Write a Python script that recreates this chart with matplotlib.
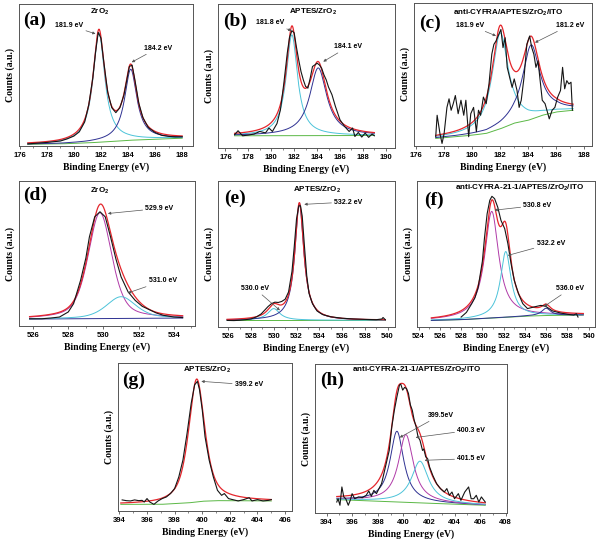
#!/usr/bin/env python3
# -*- coding: utf-8 -*-
"""XPS core-level spectra (Zr 3d, O 1s, N 1s) with peak-fit components."""

import numpy as np
import matplotlib
matplotlib.use('Agg')
import matplotlib.pyplot as plt
from matplotlib.ticker import MultipleLocator

plt.rcParams['font.family'] = ['Liberation Sans', 'DejaVu Sans']
plt.rcParams['font.weight'] = 'bold'
plt.rcParams['mathtext.fontset'] = 'custom'
plt.rcParams['mathtext.rm'] = 'Liberation Sans:bold'
plt.rcParams['mathtext.it'] = 'Liberation Sans:bold'
plt.rcParams['mathtext.default'] = 'rm'

BLACK = '#151515'
RED = '#e4262c'
CYAN = '#4cc3d9'
BLUE = '#2e3192'
GREEN = '#5bb846'
MAGENTA = '#b03aa8'

# ---------------------------------------------------------------- data
# counts are in relative units (0 = bottom of the frame, 1 = top)

# (a) Zr 3d, ZrO2
a_energy = [176.6, 177, 178, 179, 179.5, 180, 180.4, 180.8, 181.1, 181.4,
            181.6, 181.8, 182.0, 182.2, 182.5, 182.8, 183.1, 183.4, 183.7, 183.9,
            184.1, 184.3, 184.5, 184.8, 185.1, 185.5, 186, 186.5, 187, 187.5, 188]
a_counts = [.015, .018, .025, .035, .05, .07, .10, .17, .29, .48,
            .66, .80, .76, .60, .38, .27, .235, .27, .36, .46,
            .56, .57, .47, .30, .20, .13, .095, .075, .068, .064, .065]
a_bg_energy = [176.6, 179, 181, 182.5, 184, 186, 188]
a_bg = [.012, .015, .022, .03, .04, .048, .055]
a_centers = [181.85, 184.2]
a_heights = [.77, .50]
a_fwhm = [1.05, 1.1]

# (b) Zr 3d, APTES/ZrO2
b_energy = [176.8, 177.1, 177.5, 178, 178.5, 179, 179.5, 179.8, 180.1, 180.5,
            180.8, 181.1, 181.4, 181.6, 181.8, 182.0, 182.2, 182.4, 182.6, 182.8,
            183.0, 183.2, 183.4, 183.6, 183.8, 184.0, 184.2, 184.4, 184.6, 184.8,
            185.0, 185.3, 185.6, 186.0, 186.4, 186.8, 187.1, 187.3, 187.6, 187.9,
            188.2, 188.5, 188.8, 189.0]
b_counts = [.092, .12, .085, .09, .097, .115, .105, .139, .115, .17,
            .265, .45, .66, .77, .815, .80, .70, .61, .53, .473,
            .427, .416, .485, .566, .577, .589, .577, .554, .508, .473,
            .423, .37, .289, .196, .15, .115, .139, .08, .108, .076,
            .104, .074, .097, .085]
b_bg_energy = [176.8, 189.0]
b_bg = [.085, .087]
b_centers = [181.8, 184.1]
b_heights = [.70, .47]
b_fwhm = [1.2, 1.8]

# (c) Zr 3d, anti-CYFRA/APTES/ZrO2/ITO
c_energy = [177.4, 177.5, 177.7, 177.85, 178.0, 178.2, 178.35, 178.5, 178.65, 178.8,
            179.0, 179.2, 179.4, 179.55, 179.75, 179.9, 180.1, 180.3, 180.45, 180.6,
            180.8, 181.0, 181.2, 181.4, 181.55, 181.7, 181.85, 182.05, 182.2, 182.35,
            182.5, 182.7, 182.85, 183.0, 183.2, 183.35, 183.5, 183.7, 183.9, 184.1,
            184.25, 184.4, 184.55, 184.7, 184.85, 185.0, 185.2, 185.4, 185.5, 185.7,
            185.9, 186.1, 186.3, 186.45, 186.6, 186.75, 186.9, 187.05, 187.15]
c_counts = [.065, .215, .088, .018, .088, .27, .33, .25, .296, .353,
            .226, .32, .215, .32, .065, .226, .27, .10, .25, .215,
            .342, .296, .434, .642, .711, .734, .769, .815, .688, .757,
            .55, .469, .41, .469, .388, .27, .32, .48, .711, .769,
            .688, .642, .55, .596, .457, .32, .296, .226, .19, .25,
            .27, .342, .388, .55, .40, .457, .434, .446, .25]
c_bg_energy = [177.4, 178, 179, 180, 181, 182, 183, 184, 185, 186, 187.2]
c_bg = [.053, .058, .066, .076, .088, .12, .16, .18, .215, .238, .25]
c_centers = [182.0, 184.2]
c_heights = [.67, .52]
c_fwhm = [1.4, 1.5]

# (d) O 1s, ZrO2
d_energy = [525.8, 526.5, 527.0, 527.5, 528.0, 528.3, 528.7, 529.0, 529.2, 529.5,
            529.8, 530.1, 530.4, 530.7, 531.0, 531.4, 531.8, 532.2, 532.6, 533.0,
            533.4, 534.0, 534.5]
d_counts = [.05, .05, .055, .062, .097, .154, .316, .47, .615, .753,
            .788, .753, .615, .465, .339, .235, .177, .136, .113, .09,
            .074, .062, .058]
d_bg_energy = [525.8, 534.5]
d_bg = [.048, .055]
d_centers = [529.8, 531.0]
d_heights = [.73, .15]
d_fwhm = [1.6, 2.0]

# (e) O 1s, APTES/ZrO2
e_energy = [525.9, 526.5, 527.0, 527.5, 528.0, 528.5, 528.9, 529.2, 529.5, 529.8,
            530.1, 530.4, 530.7, 531.0, 531.3, 531.6, 531.8, 532.0, 532.2, 532.35,
            532.5, 532.7, 532.9, 533.1, 533.4, 533.8, 534.3, 535.0, 536.0, 537.0,
            538.0, 539.0, 539.5, 539.6, 539.8]
e_counts = [.045, .044, .046, .05, .055, .07, .09, .115, .14, .16,
            .17, .168, .175, .19, .24, .38, .55, .74, .83, .83,
            .76, .55, .35, .23, .16, .11, .085, .07, .06, .055,
            .052, .05, .055, .065, .05]
e_bg_energy = [525.9, 539.8]
e_bg = [.046, .046]
e_centers = [530.0, 532.25]
e_heights = [.08, .80]
e_fwhm = [1.3, 0.95]

# (f) O 1s, anti-CYFRA-21-1/APTES/ZrO2/ITO
f_energy = [528.0, 528.5, 529.0, 529.3, 529.6, 530.0, 530.2, 530.45, 530.7, 530.9,
            531.15, 531.45, 531.75, 532.1, 532.4, 532.7, 533.0, 533.4, 533.8, 534.25,
            534.85, 535.5, 535.95, 536.6, 537.35, 538.0, 538.6, 538.85, 539.0]
f_counts = [.068, .1, .16, .2, .27, .45, .61, .776, .868, .895,
            .879, .82, .73, .674, .571, .434, .32, .228, .16, .126,
            .137, .148, .142, .11, .096, .087, .082, .091, .068]
f_bg_energy = [525.2, 528, 530, 532, 534, 535.5, 537, 539.5]
f_bg = [.045, .05, .058, .066, .074, .078, .08, .082]
f_centers = [530.88, 532.2, 536.0]
f_heights = [.73, .45, .05]
f_fwhm = [1.6, 1.2, 1.0]

# (g) N 1s, APTES/ZrO2
g_energy = [394.2, 394.5, 394.8, 395.1, 395.4, 395.64, 395.8, 396.0, 396.2, 396.5,
            396.8, 397.1, 397.4, 397.7, 398.0, 398.3, 398.6, 398.9, 399.2, 399.45,
            399.65, 399.8, 400.0, 400.2, 400.5, 400.8, 401.1, 401.4, 401.6, 401.9,
            402.2, 402.6, 403.0, 403.4, 403.6, 404.0, 404.4, 404.8, 405.0]
g_counts = [.075, .07, .068, .075, .07, .072, .061, .084, .061, .045,
            .068, .084, .095, .118, .152, .23, .344, .525, .728, .853,
            .876, .82, .683, .502, .344, .231, .14, .106, .118, .084,
            .077, .068, .077, .09, .068, .077, .068, .072, .077]
g_bg_energy = [394.1, 397, 398, 399, 400, 401, 402, 405]
g_bg = [.045, .045, .05, .055, .066, .07, .07, .068]
g_centers = [399.6]
g_heights = [.83]
g_fwhm = [1.4]

# (h) N 1s, anti-CYFRA-21-1/APTES/ZrO2/ITO
h_energy = [394.8, 394.9, 395.05, 395.2, 395.35, 395.5, 395.7, 395.85, 396.0, 396.2,
            396.5, 396.8, 397.1, 397.3, 397.5, 397.7, 397.9, 398.1, 398.3, 398.6,
            398.9, 399.1, 399.3, 399.5, 399.7, 399.8, 399.95, 400.1, 400.25, 400.4,
            400.55, 400.7, 400.85, 401.0, 401.15, 401.3, 401.5, 401.6, 401.75, 401.9,
            402.05, 402.3, 402.6, 402.9, 403.2, 403.4, 403.6, 403.8, 404.0, 404.3,
            404.5, 404.8, 405.1, 405.3, 405.5, 405.7, 405.9, 406.1, 406.3, 406.4]
h_counts = [.074, .096, .052, .175, .108, .096, .052, .085, .13, .096,
            .108, .103, .119, .148, .112, .152, .13, .164, .197, .309,
            .42, .578, .69, .78, .859, .865, .825, .843, .836, .803,
            .726, .69, .623, .578, .511, .489, .42, .43, .377, .365,
            .309, .253, .197, .164, .141, .164, .119, .141, .096, .13,
            .085, .141, .175, .096, .096, .119, .074, .108, .085, .074]
h_bg_energy = [394.8, 400, 406.4]
h_bg = [.09, .072, .052]
h_centers = [399.5, 400.2, 401.3]
h_heights = [.475, .455, .28]
h_fwhm = [1.3, 1.4, 1.6]

ZRO2 = 'ZrO$_2$'
TITLES = [ZRO2, 'APTES/' + ZRO2, 'anti-CYFRA/APTES/' + ZRO2 + '/ITO',
          ZRO2, 'APTES/' + ZRO2, 'anti-CYFRA-21-1/APTES/' + ZRO2 + '/ITO',
          'APTES/' + ZRO2, 'anti-CYFRA-21-1/APTES/' + ZRO2 + '/ITO']
PEAK_LABELS = [['181.9 eV', '184.2 eV'], ['181.8 eV', '184.1 eV'],
               ['181.9 eV', '181.2 eV'], ['529.9 eV', '531.0 eV'],
               ['532.2 eV', '530.0 eV'], ['530.8 eV', '532.2 eV', '536.0 eV'],
               ['399.2 eV'], ['399.5eV', '400.3 eV', '401.5 eV']]

# ---------------------------------------------------------------- layout
PANELS = [
    dict(letter='(a)', rect=[.0317, .7311, .29, .2615], xlim=(175.95, 188.8),
         span=(176.6, 188.0), data=(a_energy, a_counts), bg=(a_bg_energy, a_bg),
         peaks=(a_centers, a_heights, a_fwhm), colors=[CYAN, BLUE], eta=1.0,
         bg_color=GREEN, title_xy=(.465, .946), letter_xy=(.09, .887),
         notes=[((179.65, .85), (181.6, .79)), ((186.2, .69), (184.27, .59))]),
    dict(letter='(b)', rect=[.3633, .7274, .295, .2652], xlim=(175.35, 190.8),
         span=(176.8, 189.0), data=(b_energy, b_counts), bg=(b_bg_energy, b_bg),
         peaks=(b_centers, b_heights, b_fwhm), colors=[CYAN, BLUE], eta=1.0,
         bg_color=GREEN, title_xy=(.54, .947), letter_xy=(.094, .877),
         notes=[((179.88, .87), (181.77, .815)), ((186.73, .704), (184.54, .60))]),
    dict(letter='(c)', rect=[.69, .7311, .2967, .2634], xlim=(175.85, 188.55),
         span=(177.4, 187.2), data=(c_energy, c_counts), bg=(c_bg_energy, c_bg),
         peaks=(c_centers, c_heights, c_fwhm), colors=[CYAN, BLUE], eta=1.0,
         bg_color=GREEN, title_xy=(.53, .93), letter_xy=(.09, .86),
         notes=[((179.85, .845), (181.7, .77)), ((186.97, .845), (184.48, .723))]),
    dict(letter='(d)', rect=[.0317, .3996, .2933, .267], xlim=(525.2, 535.2),
         span=(525.8, 534.5), data=(d_energy, d_counts), bg=(d_bg_energy, d_bg),
         peaks=(d_centers, d_heights, d_fwhm), colors=[MAGENTA, CYAN], eta=0.5,
         bg_color=BLUE, title_xy=(.46, .933), letter_xy=(.09, .90),
         notes=[((533.18, .811), (530.25, .776)), ((533.37, .311), (531.39, .228))]),
    dict(letter='(e)', rect=[.3633, .3978, .295, .2689], xlim=(525.1, 540.65),
         span=(525.9, 539.8), data=(e_energy, e_counts), bg=(e_bg_energy, e_bg),
         peaks=(e_centers, e_heights, e_fwhm), colors=[CYAN, BLUE], eta=1.0,
         bg_color=GREEN, title_xy=(.557, .94), letter_xy=(.094, .88),
         notes=[((536.55, .856), (532.68, .84)), ((528.34, .263), (530.54, .114))]),
    dict(letter='(f)', rect=[.695, .3978, .2967, .2689], xlim=(523.85, 540.6),
         span=(525.2, 539.5), data=(f_energy, f_counts), bg=(f_bg_energy, f_bg),
         peaks=(f_centers, f_heights, f_fwhm), colors=[MAGENTA, CYAN, BLUE], eta=1.0,
         bg_color=GREEN, title_xy=(.574, .954), letter_xy=(.093, .868),
         notes=[((535.18, .833), (531.14, .80)), ((536.43, .571), (532.39, .49)),
                ((538.29, .263), (535.8, .14))]),
    dict(letter='(g)', rect=[.1967, .0589, .29, .2726], xlim=(393.9, 406.5),
         span=(394.1, 405.0), data=(g_energy, g_counts), bg=(g_bg_energy, g_bg),
         peaks=(g_centers, g_heights, g_fwhm), colors=[None], eta=0.7,
         bg_color=GREEN, title_xy=(.51, .955), letter_xy=(.09, .88),
         notes=[((403.38, .853), (399.93, .876))]),
    dict(letter='(h)', rect=[.525, .0552, .32, .2744], xlim=(393.1, 408.1),
         span=(394.8, 406.4), data=(h_energy, h_counts), bg=(h_bg_energy, h_bg),
         peaks=(h_centers, h_heights, h_fwhm), colors=[BLUE, MAGENTA, CYAN], eta=1.0,
         bg_color=GREEN, title_xy=(.53, .96), letter_xy=(.09, .89),
         notes=[((402.9, .657), (399.72, .507)), ((405.3, .556), (400.96, .507)),
                ((405.3, .365), (401.66, .354))]),
]


def pseudo_voigt(x, center, height, fwhm, eta):
    """Mixed Lorentzian/Gaussian line shape."""
    hw = fwhm / 2.0
    lor = hw ** 2 / ((x - center) ** 2 + hw ** 2)
    gau = np.exp(-np.log(2) * ((x - center) / hw) ** 2)
    return height * (eta * lor + (1.0 - eta) * gau)


def draw_panel(ax, panel, title, labels):
    """Draw one spectrum with its fit."""
    x = np.linspace(panel['span'][0], panel['span'][1], 600)
    background = np.interp(x, *panel['bg'])
    envelope = background.copy()
    ax.plot(x, background, color=panel['bg_color'], lw=0.7, zorder=2)
    for center, height, fwhm, color in zip(*panel['peaks'], panel['colors']):
        comp = pseudo_voigt(x, center, height, fwhm, panel['eta'])
        envelope += comp
        if color is not None:
            ax.plot(x, background + comp, color=color, lw=0.7, zorder=3)
    ax.plot(x, envelope, color=RED, lw=0.9, zorder=4)
    ax.plot(*panel['data'], color=BLACK, lw=0.8, zorder=5)

    ax.set_xlim(*panel['xlim'])
    ax.set_ylim(0, 1)
    ax.xaxis.set_major_locator(MultipleLocator(2))
    ax.xaxis.set_minor_locator(MultipleLocator(1))
    ax.tick_params(axis='x', which='major', direction='out', length=2.5, width=0.6,
                   color='#555555', labelsize=5.5, pad=2)
    ax.tick_params(axis='x', which='minor', direction='out', length=1.5, width=0.5,
                   color='#555555')
    ax.tick_params(axis='y', left=False, labelleft=False)
    for spine in ax.spines.values():
        spine.set_color('#555555')
        spine.set_linewidth(0.7)

    ax.set_xlabel('Binding Energy (eV)', family='Liberation Serif', weight='bold',
                  fontsize=7, labelpad=2)
    ax.set_ylabel('Counts (a.u.)', family='Liberation Serif', weight='bold',
                  fontsize=7, labelpad=3)
    ax.text(*panel['title_xy'], title, transform=ax.transAxes, fontsize=5.8,
            ha='center', va='center')
    ax.text(*panel['letter_xy'], panel['letter'], transform=ax.transAxes,
            fontsize=14, family='Liberation Serif', weight='bold',
            ha='center', va='center')
    for label, (text_xy, tip_xy) in zip(labels, panel['notes']):
        ax.annotate(label, xy=tip_xy, xytext=text_xy, fontsize=5,
                    ha='center', va='center', zorder=6,
                    arrowprops=dict(arrowstyle='-|>', color='#555555', lw=0.5,
                                    mutation_scale=4, shrinkA=0, shrinkB=0))


def main():
    """Build the figure."""
    fig = plt.figure(figsize=(6.0, 5.43), dpi=100)
    for panel, title, labels in zip(PANELS, TITLES, PEAK_LABELS):
        ax = fig.add_axes(panel['rect'])
        draw_panel(ax, panel, title, labels)
    fig.savefig('out.png', dpi=100, facecolor='white')


if __name__ == "__main__":
    main()
